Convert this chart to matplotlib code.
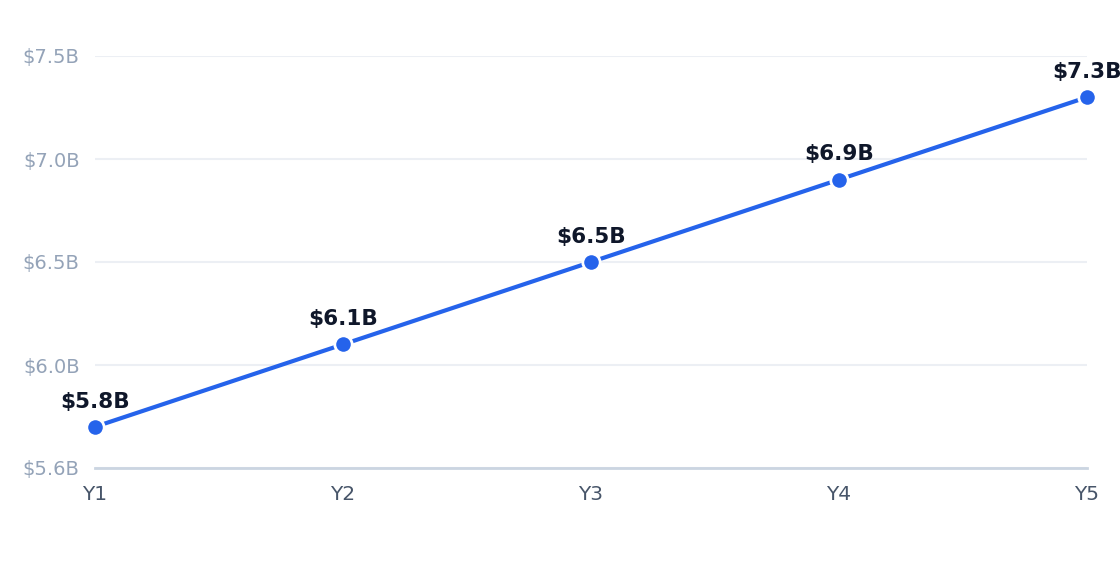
import matplotlib
matplotlib.use('Agg')
import matplotlib.pyplot as plt

years = ['Y1', 'Y2', 'Y3', 'Y4', 'Y5']
revenue = [5.7, 6.1, 6.5, 6.9, 7.3]  # $B
point_labels = ['$5.8B', '$6.1B', '$6.5B', '$6.9B', '$7.3B']
y_ticks = [5.5, 6.0, 6.5, 7.0, 7.5]
y_tick_labels = ['$5.6B', '$6.0B', '$6.5B', '$7.0B', '$7.5B']

line_color = '#2563eb'

fig = plt.figure(figsize=(11.2, 5.72), dpi=100)
ax = fig.add_axes([95 / 1120, 1 - 468 / 572, (1087 - 95) / 1120, (468 - 56) / 572])

x = list(range(len(years)))
ax.plot(x, revenue, color=line_color, linewidth=3, marker='o', markersize=12.5,
        markerfacecolor=line_color, markeredgecolor='white', markeredgewidth=2,
        zorder=3, clip_on=False)

for xi, yi, lab in zip(x, revenue, point_labels):
    ax.annotate(lab, (xi, yi), xytext=(0, 11), textcoords='offset points',
                ha='center', va='bottom', fontsize=15.5, fontweight='bold',
                color='#0f172a', annotation_clip=False)

ax.set_xlim(0, len(years) - 1)
ax.set_ylim(5.5, 7.5)
ax.set_xticks(x)
ax.set_xticklabels(years)
ax.set_yticks(y_ticks)
ax.set_yticklabels(y_tick_labels)

ax.grid(axis='y', color='#eceff4', linewidth=1.5)
ax.set_axisbelow(True)
for side in ['top', 'right', 'left']:
    ax.spines[side].set_visible(False)
ax.spines['bottom'].set_color('#cbd5e1')
ax.spines['bottom'].set_linewidth(2)

ax.tick_params(axis='both', length=0)
ax.tick_params(axis='y', labelsize=14, labelcolor='#94a3b8', pad=11)
ax.tick_params(axis='x', labelsize=14.5, labelcolor='#475569', pad=12)

fig.savefig('out.png', dpi=100)
